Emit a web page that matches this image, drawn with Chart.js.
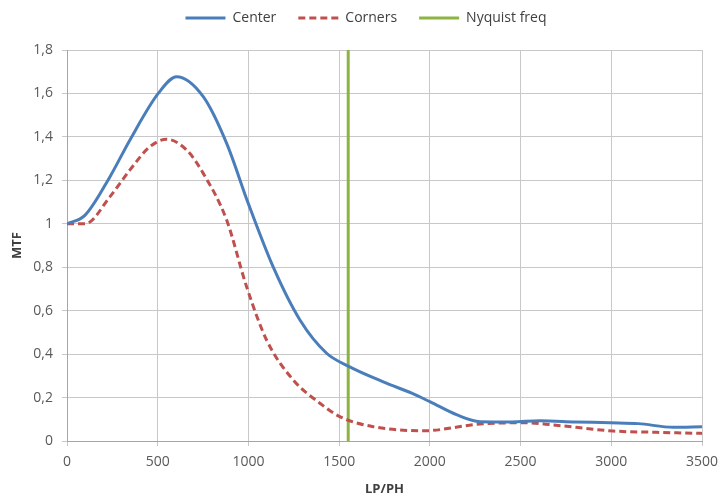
<!DOCTYPE html>
<html>
<head>
<meta charset="utf-8">
<script src="https://cdn.jsdelivr.net/npm/chart.js@4"></script>
<style>
  body { margin: 0; background: #fff; }
  #wrap { width: 720px; height: 501px; }
</style>
</head>
<body>
<div id="wrap"><canvas id="grafico"></canvas></div>
<script>
// dados (LP/PH x MTF)
const centroX = [0, 100, 237, 347, 503, 604, 751, 880, 999, 1137, 1284, 1431, 1550, 1750, 1900, 2000, 2150, 2276, 2450, 2607, 2800, 2992, 3150, 3340, 3500];
const centroY = [1.0, 1.04, 1.217, 1.386, 1.60, 1.677, 1.585, 1.37, 1.094, 0.80, 0.557, 0.404, 0.345, 0.27, 0.22, 0.181, 0.12, 0.089, 0.088, 0.093, 0.088, 0.084, 0.08, 0.063, 0.066];

const cantosX = [0, 100, 237, 347, 457, 549, 659, 751, 880, 990, 1100, 1247, 1394, 1504, 1688, 1964, 2276, 2533, 2680, 3011, 3250, 3500];
const cantosY = [1.0, 1.0, 1.125, 1.248, 1.355, 1.389, 1.34, 1.232, 1.017, 0.71, 0.465, 0.281, 0.174, 0.112, 0.066, 0.047, 0.078, 0.084, 0.074, 0.046, 0.04, 0.035];

const nyquistX = [1550, 1550];
const nyquistY = [0, 1.8];

const legendas = ["Center", "Corners", "Nyquist freq"];

function pontos(xs, ys) {
  let lista = [];
  for (let i = 0; i < xs.length; i++) {
    lista.push({ x: xs[i], y: ys[i] });
  }
  return lista;
}

const fonte = "'Open Sans', sans-serif";

// ajusta altura e posicao da legenda
const ajusteLegenda = {
  id: "ajusteLegenda",
  beforeInit(chart) {
    const fitOriginal = chart.legend.fit;
    chart.legend.fit = function () {
      fitOriginal.bind(chart.legend)();
      this.height = 50;
    };
  },
  beforeDraw(chart) {
    const leg = chart.legend;
    if (!leg._ajustado) {
      leg.left += 15;
      leg.right += 15;
      leg.top -= 11;
      leg.bottom -= 11;
      leg._ajustado = true;
    }
  },
};

new Chart(document.getElementById("grafico"), {
  type: "line",
  data: {
    datasets: [
      {
        label: legendas[0],
        data: pontos(centroX, centroY),
        borderColor: "#4a7ebb",
        borderWidth: 3,
        pointRadius: 0,
        cubicInterpolationMode: "monotone",
      },
      {
        label: legendas[1],
        data: pontos(cantosX, cantosY),
        borderColor: "#c0504d",
        borderWidth: 3,
        borderDash: [7, 4],
        pointRadius: 0,
        cubicInterpolationMode: "monotone",
      },
      {
        label: legendas[2],
        data: pontos(nyquistX, nyquistY),
        borderColor: "#8db442",
        borderWidth: 3,
        pointRadius: 0,
      },
    ],
  },
  options: {
    responsive: true,
    maintainAspectRatio: false,
    animation: false,
    layout: { padding: { top: 0, right: 18, left: 0, bottom: 0 } },
    plugins: {
      legend: {
        position: "top",
        labels: {
          usePointStyle: true,
          pointStyle: "line",
          pointStyleWidth: 40,
          boxHeight: 3,
          padding: 22,
          color: "#404040",
          font: { family: fonte, size: 14 },
          // linha tracejada na legenda do Corners
          generateLabels: function (chart) {
            const itens = Chart.defaults.plugins.legend.labels.generateLabels(chart);
            for (let i = 0; i < itens.length; i++) {
              const ds = chart.data.datasets[itens[i].datasetIndex];
              itens[i].strokeStyle = ds.borderColor;
              itens[i].lineWidth = 3;
              itens[i].lineDash = ds.borderDash || [];
            }
            return itens;
          },
        },
      },
      tooltip: { enabled: false },
    },
    scales: {
      x: {
        type: "linear",
        min: 0,
        max: 3500,
        afterFit: function (escala) {
          escala.height = 60;
          escala.paddingRight = 0;
        },
        ticks: {
          stepSize: 500,
          padding: 8,
          color: "#595959",
          font: { family: fonte, size: 14 },
          maxRotation: 0,
          callback: function (v) {
            return String(v);
          },
        },
        grid: { color: "#c8c8c8", tickLength: 5 },
        border: { color: "#a6a6a6" },
        title: { display: true, text: "LP/PH", color: "#404040", padding: { top: 2 }, font: { family: fonte, size: 13, weight: "bold" } },
      },
      y: {
        min: 0,
        max: 1.8,
        afterFit: function (escala) {
          escala.width = 67;
        },
        ticks: {
          stepSize: 0.2,
          padding: 9,
          color: "#595959",
          font: { family: fonte, size: 14 },
          callback: function (v) {
            return (Math.round(v * 10) / 10).toString().replace(".", ",");
          },
        },
        grid: { color: "#c8c8c8", tickLength: 5 },
        border: { color: "#a6a6a6" },
        title: { display: true, text: "MTF", color: "#404040", padding: { top: 9, bottom: 4 }, font: { family: fonte, size: 13, weight: "bold" } },
      },
    },
  },
  plugins: [ajusteLegenda],
});
</script>
</body>
</html>
